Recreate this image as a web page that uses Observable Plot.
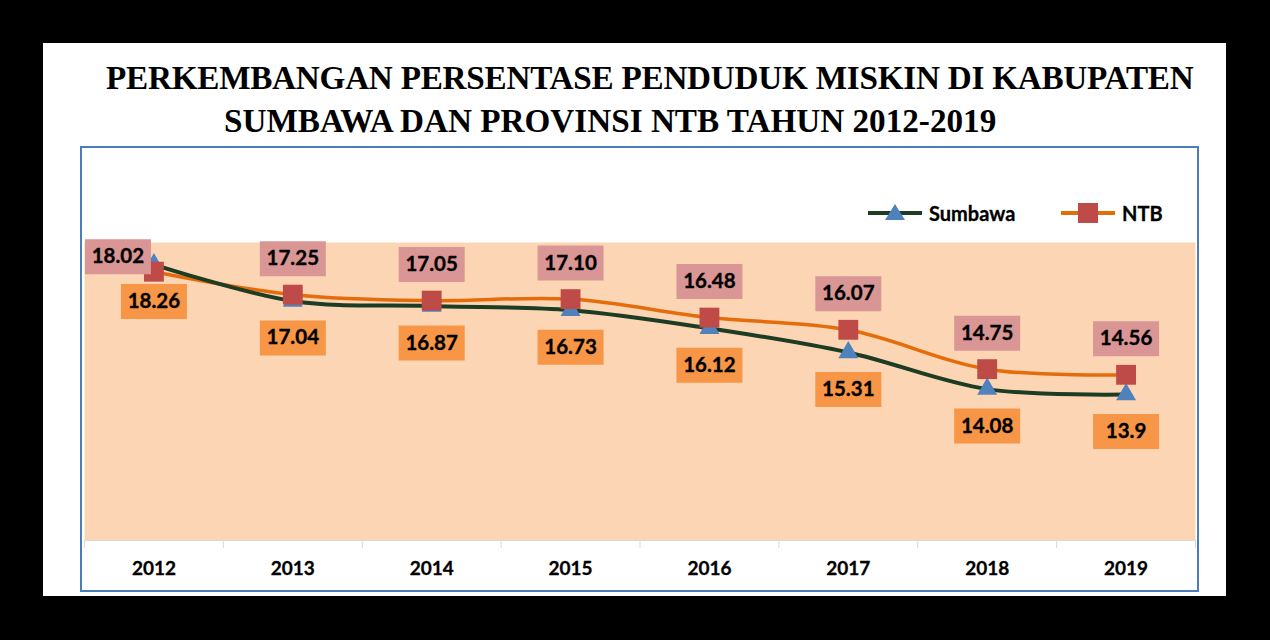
<!DOCTYPE html>
<html><head><meta charset="utf-8">
<script src="https://cdn.jsdelivr.net/npm/d3@7"></script>
<script src="https://cdn.jsdelivr.net/npm/@observablehq/plot@0.6"></script>
<style>
html,body{margin:0;padding:0}
body{background:#000;width:1270px;height:640px;overflow:hidden;position:relative;font-family:Lato,"Open Sans",sans-serif}
#panel{position:absolute;left:43px;top:43px;width:1183px;height:553px;background:#fff}
.title{position:absolute;font-family:"Liberation Serif","Times New Roman",serif;font-weight:bold;font-size:33.2px;color:#000;white-space:nowrap;line-height:1}
#box{position:absolute;left:80px;top:146px;width:1115px;height:442px;border:2px solid #4a7ebb}
#chart{position:absolute;left:78px;top:230px}
.leg{position:absolute;top:200px;height:26px;display:flex;align-items:center;font-weight:bold;font-size:20px;color:#000;-webkit-text-stroke:0.3px #000}
.leg svg{margin-right:7px}
</style>
</head><body>
<div id="panel"></div>
<div class="title" id="t1" style="left:106px;top:61px;letter-spacing:-0.24px">PERKEMBANGAN PERSENTASE PENDUDUK MISKIN DI KABUPATEN</div>
<div class="title" id="t2" style="left:224px;top:104px">SUMBAWA DAN PROVINSI NTB TAHUN 2012-2019</div>
<div id="box"></div>
<div class="leg" style="left:868px"><svg width="54" height="26"><line x1="0" y1="13" x2="54" y2="13" stroke="#1c3c23" stroke-width="4"/><path d="M27,4 L37,20 L17,20 Z" fill="#4f81bd"/></svg>Sumbawa</div>
<div class="leg" style="left:1061px"><svg width="54" height="26"><line x1="0" y1="13" x2="54" y2="13" stroke="#e46c0a" stroke-width="4"/><rect x="17" y="3" width="20" height="20" fill="#be4b48"/></svg>NTB</div>
<div id="chart"></div>
<script>
const years = ["2012","2013","2014","2015","2016","2017","2018","2019"];
const sumbawa = [18.26, 17.04, 16.87, 16.73, 16.12, 15.31, 14.08, 13.9];
const ntb = [18.02, 17.25, 17.05, 17.10, 16.48, 16.07, 14.75, 14.56];
const sumbawaLabels = ["18.26","17.04","16.87","16.73","16.12","15.31","14.08","13.9"];
const ntbLabels = ["18.02","17.25","17.05","17.10","16.48","16.07","14.75","14.56"];
const yDomain = [9, 19];

const sRows = years.map((year, i) => ({year, value: sumbawa[i], label: sumbawaLabels[i]}));
const nRows = years.map((year, i) => ({year, value: ntb[i], label: ntbLabels[i]}));

const W = 1120, H = 360, mL = 6, mR = 3, mT = 12, mB = 50;
const step = (W - mL - mR) / years.length;
const boxW = 66, boxH = 35;
const boxSymbol = {draw(ctx) { ctx.rect(-boxW / 2, -boxH / 2, boxW, boxH); }};
const labelFont = {fontFamily: "Lato, sans-serif", fontWeight: "bold", fontSize: 20.5, fill: "#000", stroke: "#000", strokeWidth: 0.35};

const nMain = nRows.slice(1), nFirst = nRows.slice(0, 1);

const chart = Plot.plot({
  width: W, height: H,
  marginLeft: mL, marginRight: mR, marginTop: mT, marginBottom: mB,
  style: {background: "transparent", fontFamily: "Lato, sans-serif"},
  x: {type: "band", domain: years, padding: 0, round: false, label: null, tickSize: 0, tickPadding: 21},
  y: {domain: yDomain, axis: null},
  marks: [
    Plot.frame({fill: "#fcd5b4", stroke: "none"}),
    Plot.ruleY([yDomain[0]], {stroke: "#d9d9d9", strokeWidth: 1}),
    Plot.ruleX(years, {x: d => d, y1: yDomain[0], y2: yDomain[0], insetBottom: -8, dx: -step / 2, stroke: "#d9d9d9"}),
    Plot.ruleX(years.slice(-1), {x: d => d, y1: yDomain[0], y2: yDomain[0], insetBottom: -8, dx: step / 2, stroke: "#d9d9d9"}),
    Plot.line(nRows, {x: "year", y: "value", stroke: "#e46c0a", strokeWidth: 3.5, curve: "catmull-rom"}),
    Plot.line(sRows, {x: "year", y: "value", stroke: "#1c3c23", strokeWidth: 4, curve: "catmull-rom"}),
    Plot.dot(sRows, {x: "year", y: "value", symbol: "triangle", r: 7.4, fill: "#4f81bd", stroke: "none"}),
    Plot.dot(nRows, {x: "year", y: "value", symbol: "square", r: 11.2, fill: "#be4b48", stroke: "none"}),
    // Sumbawa labels (below)
    Plot.dot(sRows, {x: "year", y: "value", symbol: boxSymbol, r: 5, fill: "#f79646", stroke: "none", dy: 37}),
    Plot.text(sRows, {x: "year", y: "value", text: "label", dy: 37, ...labelFont}),
    // NTB labels (above)
    Plot.dot(nMain, {x: "year", y: "value", symbol: boxSymbol, r: 5, fill: "#d99694", stroke: "none", dy: -36}),
    Plot.text(nMain, {x: "year", y: "value", text: "label", dy: -36, ...labelFont}),
    Plot.dot(nFirst, {x: "year", y: "value", symbol: boxSymbol, r: 5, fill: "#d99694", stroke: "none", dx: -36, dy: -15}),
    Plot.text(nFirst, {x: "year", y: "value", text: "label", dx: -36, dy: -15, ...labelFont})
  ]
});
chart.querySelectorAll('[aria-label="x-axis tick label"] text, g[aria-label="x-axis"] text, [aria-label="x-axis tick label"]').forEach(el => {
  el.setAttribute("font-weight", "bold");
  el.setAttribute("font-size", "19");
  el.setAttribute("fill", "#000");
  el.setAttribute("stroke", "#000");
  el.setAttribute("stroke-width", "0.3");
});
document.getElementById("chart").appendChild(chart);
</script>
</body></html>
